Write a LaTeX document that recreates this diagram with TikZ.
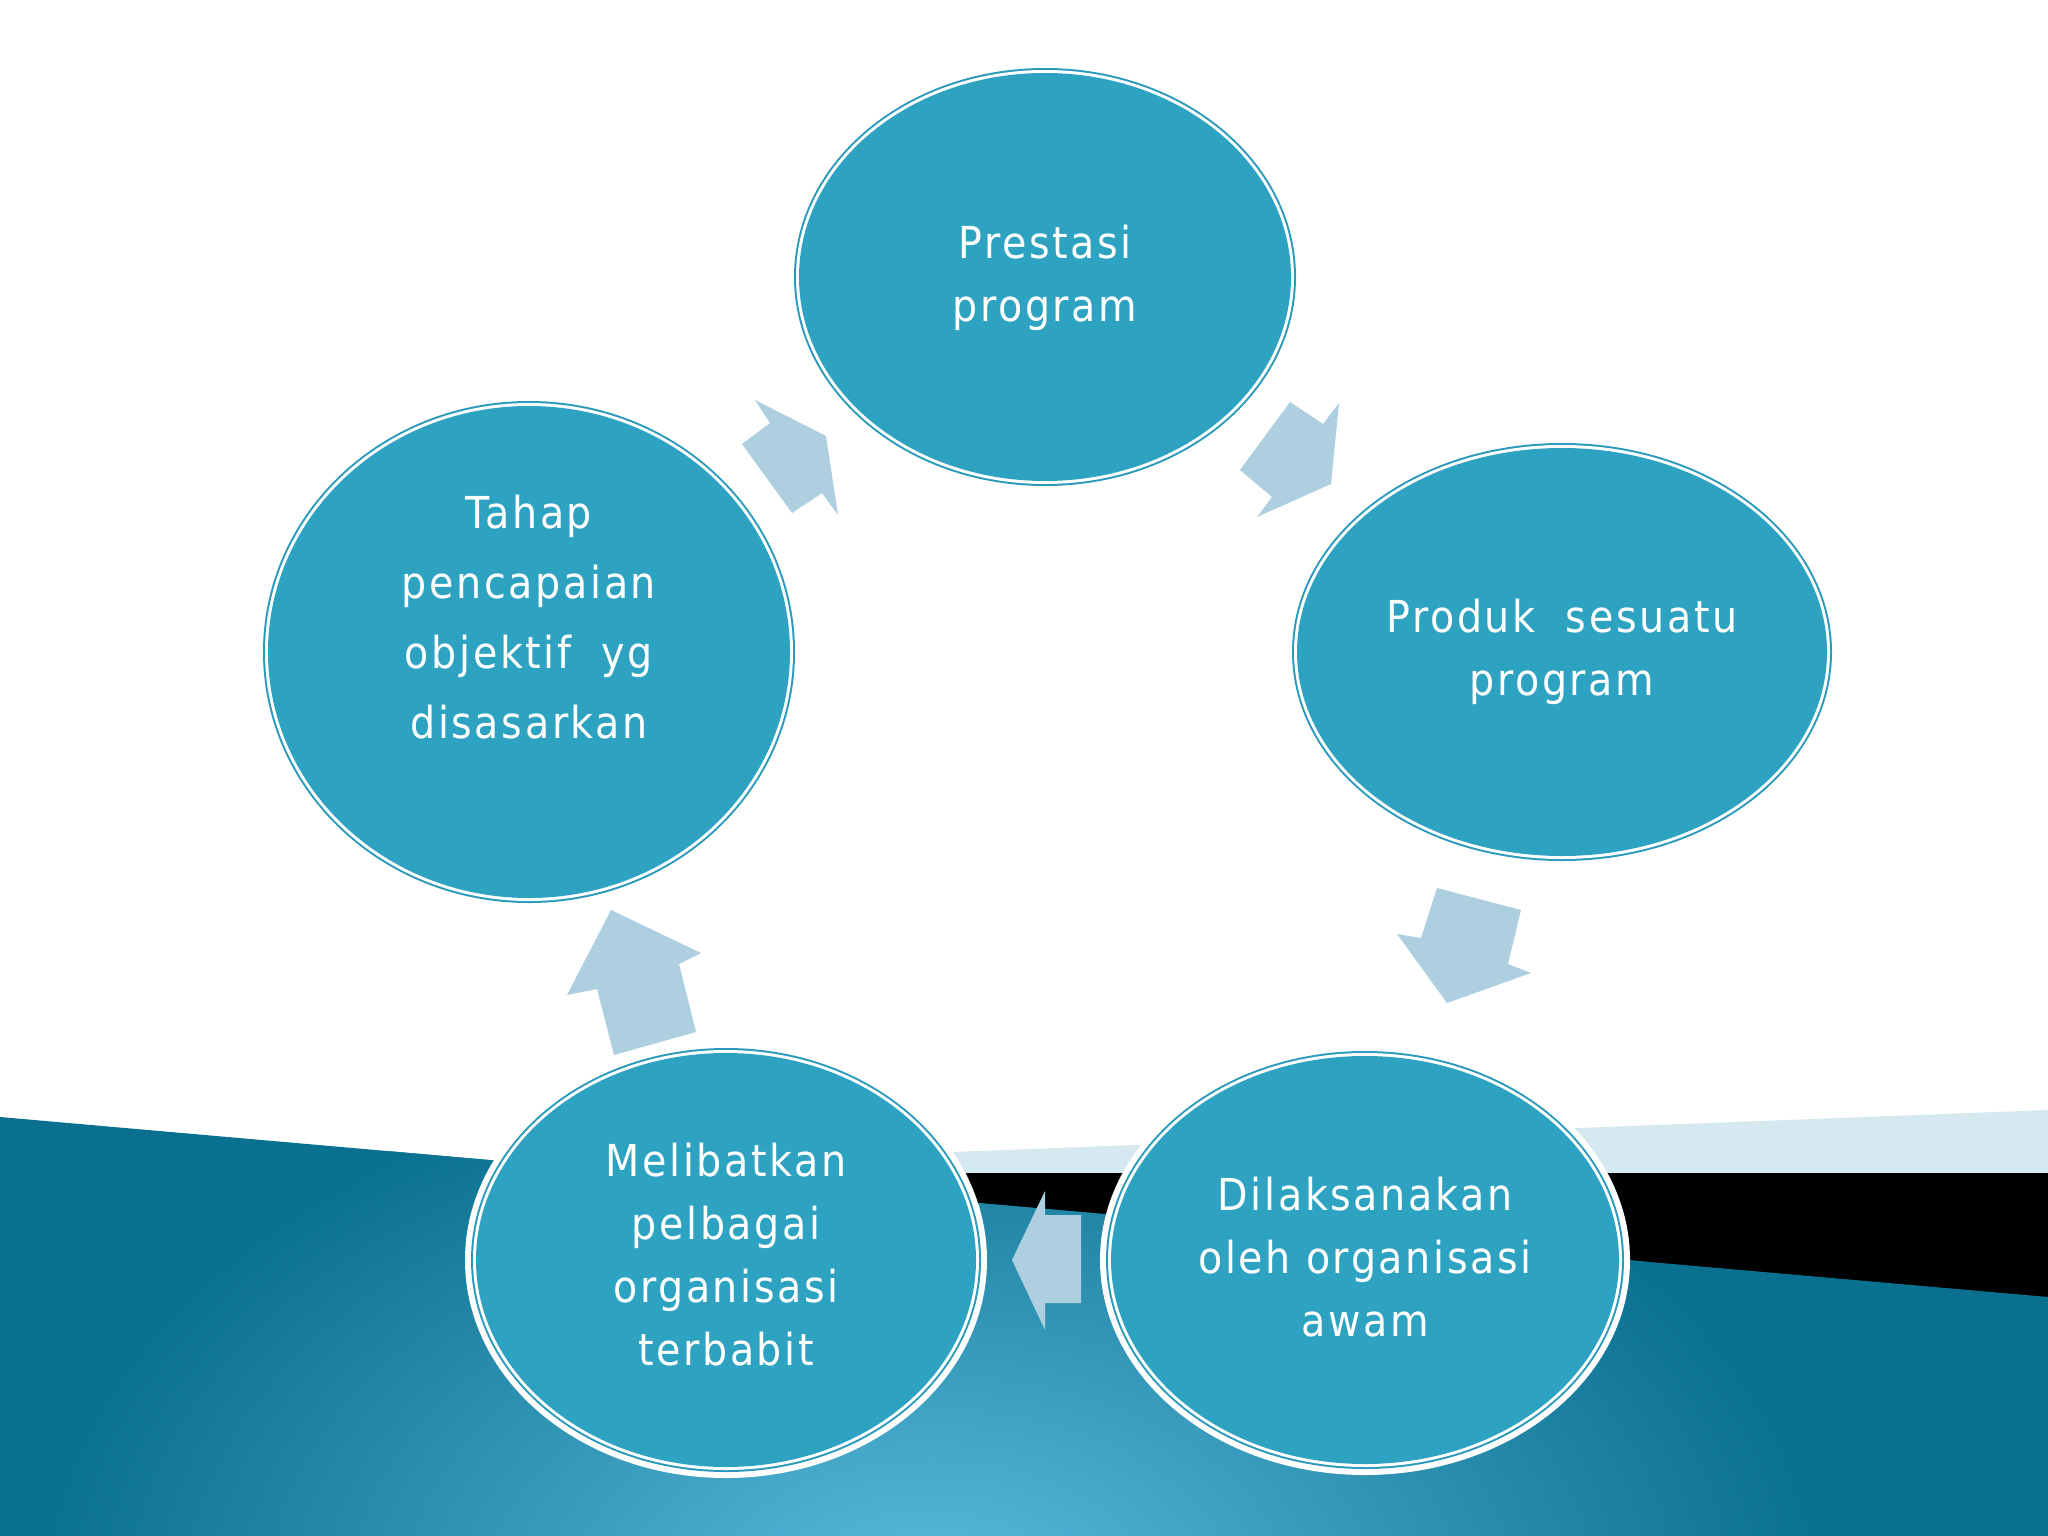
\documentclass[tikz,border=0pt]{standalone}
\usepackage{fontspec}
\setmainfont[LetterSpace=6]{DejaVu Sans Condensed}
\begin{document}
\begin{tikzpicture}[x=1pt,y=-1pt,
  arr/.style={fill=arrcol,draw=none},
  lbl/.style={text=white,align=center,font=\fontsize{44}{63}\selectfont}]
\definecolor{cfill}{HTML}{2EA3C1}
\definecolor{cline}{HTML}{2A9ABA}
\definecolor{arrcol}{HTML}{AECFDF}
\definecolor{strip}{HTML}{D6E9F1}
\definecolor{tealdark}{HTML}{0A7090}
\definecolor{teallight}{HTML}{5BBCDE}
\useasboundingbox (0,0) rectangle (2048,1536);
\fill[white] (0,0) rectangle (2048,1536);
% background bands
\fill[strip] (953,1152) -- (2048,1110) -- (2048,1173) -- (953,1173) -- cycle;
\fill[black] (966,1173) -- (2048,1173) -- (2048,1300) -- (966,1300) -- cycle;
\begin{scope}
\clip (0,1117) -- (2048,1297) -- (2048,1536) -- (0,1536) -- cycle;
\fill[tealdark] (0,1100) rectangle (2048,1536);
\shade[inner color=teallight,outer color=tealdark] (930,1600) ellipse (900 and 560);
\end{scope}
% circles
\foreach \cx/\cy/\rx/\ry in {1045/277/251/209,1562/652/270/209,529/652/266/251}{
  \fill[cline] (\cx,\cy) ellipse ({\rx} and {\ry});
  \fill[white] (\cx,\cy) ellipse ({\rx-2} and {\ry-2});
  \fill[cfill] (\cx,\cy) ellipse ({\rx-5} and {\ry-5});
}
\foreach \cx/\cy/\rx/\ry in {1365/1260/259/209,726/1260/255/212}{
  \fill[white] (\cx,\cy) ellipse ({\rx+6} and {\ry+6});
  \fill[cline] (\cx,\cy) ellipse ({\rx} and {\ry});
  \fill[white] (\cx,\cy) ellipse ({\rx-2} and {\ry-2});
  \fill[cfill] (\cx,\cy) ellipse ({\rx-5} and {\ry-5});
}
% arrows
\fill[arr] (1290,402) -- (1323,424) -- (1339,403) -- (1331,484) -- (1257,517) -- (1272,497) -- (1240,470) -- cycle;
\fill[arr] (1437,888) -- (1521,910) -- (1508,964) -- (1531,973) -- (1447,1003) -- (1397,934) -- (1421,938) -- cycle;
\fill[arr] (1081,1215) -- (1045,1215) -- (1045,1191) -- (1012,1260) -- (1045,1330) -- (1045,1303) -- (1081,1303) -- cycle;
\fill[arr] (614,1055) -- (597,989) -- (567,995) -- (611,910) -- (701,953) -- (679,964) -- (696,1032) -- cycle;
\fill[arr] (742,444) -- (770,423) -- (755,400) -- (826,436) -- (838,515) -- (822,493) -- (792,513) -- cycle;
% labels
\node[lbl] (t1) at (1045,278) {Prestasi\\program};
\node[lbl] (t2) at (1562,652) {Produk~~sesuatu\\program};
\node[lbl] (t3) at (1365,1257) {Dilaksanakan\\oleh organisasi\\awam};
\node[lbl] (t4) at (726,1255) {Melibatkan\\pelbagai\\organisasi\\terbabit};
\node[lbl,font=\fontsize{44}{70}\selectfont] (t5) at (529,617) {Tahap\\pencapaian\\objektif~~yg\\disasarkan};
\end{tikzpicture}
\end{document}
